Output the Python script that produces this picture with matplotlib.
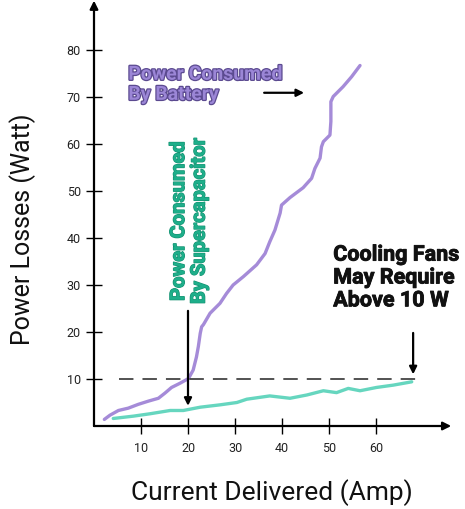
import matplotlib
matplotlib.use("Agg")
import matplotlib.pyplot as plt
import matplotlib.patheffects as pe

battery_x = [2.2, 3.4, 5.2, 7.3, 9.4, 11.6, 13.7, 15.1, 16.5, 18.3, 20.1, 21.1, 21.8,
             22.2, 22.6, 22.9, 23.3, 24.7, 26.8, 28.2, 29.6, 31.8, 34.6, 36.4, 37.4,
             38.5, 39.6, 39.9, 41.7, 44.5, 46.3, 47.0, 48.1, 48.4, 48.8, 50.2, 50.4,
             50.4, 50.9, 53.0, 54.8, 56.6]
battery_y = [1.4, 2.3, 3.3, 3.8, 4.6, 5.3, 5.9, 7.0, 8.2, 9.1, 10.1, 11.9, 14.7,
             16.9, 19.7, 21.1, 21.6, 24.0, 26.1, 28.2, 30.0, 31.8, 34.3, 36.7, 39.2,
             41.7, 45.3, 47.0, 48.6, 50.7, 52.7, 54.8, 57.0, 59.4, 60.5, 61.9, 64.8,
             69.0, 70.1, 72.2, 74.3, 76.7]

super_x = [4.1, 8.4, 11.9, 16.2, 19.0, 22.6, 26.8, 30.4, 32.5, 37.4, 41.7, 45.3,
           48.8, 51.6, 54.1, 56.6, 60.1, 63.7, 67.6]
super_y = [1.6, 2.1, 2.6, 3.3, 3.3, 4.0, 4.5, 5.0, 5.7, 6.4, 5.9, 6.6,
           7.5, 7.1, 8.0, 7.5, 8.2, 8.7, 9.4]

x_ticks = [10, 20, 30, 40, 50, 60]
y_ticks = [10, 20, 30, 40, 50, 60, 70, 80]
threshold = 10

plt.rcParams['font.family'] = ['Roboto', 'DejaVu Sans']

fig = plt.figure(figsize=(4.65, 5.09), dpi=100)
ax = fig.add_axes([94 / 465, 83 / 509, 352.5 / 465, 423 / 509])
ax.set_xlim(0, 75)
ax.set_ylim(0, 90)
for s in ax.spines.values():
    s.set_visible(False)

purple = '#A58BD8'
teal = '#66D6BF'

ax.plot(battery_x, battery_y, color=purple, lw=2.4, solid_capstyle='round',
        solid_joinstyle='round')
ax.plot(super_x, super_y, color=teal, lw=2.4, solid_capstyle='round',
        solid_joinstyle='round')
ax.plot([5.3, 70], [threshold, threshold], color='#444444', lw=1.3, dashes=(8, 5))

# axes with arrows
ax.annotate('', xy=(76, 0), xytext=(0, 0), annotation_clip=False,
            arrowprops=dict(arrowstyle='-|>', color='black', lw=1.6, mutation_scale=12,
                            shrinkA=0, shrinkB=0))
ax.annotate('', xy=(0, 90.5), xytext=(0, 0), annotation_clip=False,
            arrowprops=dict(arrowstyle='-|>', color='black', lw=1.6, mutation_scale=12,
                            shrinkA=0, shrinkB=0))

ax.set_xticks(x_ticks)
ax.set_yticks(y_ticks)
ax.tick_params(direction='inout', length=11, width=1, color='black',
               labelsize=9, labelcolor='#222222', pad=4)
ax.tick_params(axis='x', pad=6)

fig.text(272 / 465, 1 - 493 / 509, 'Current Delivered (Amp)', ha='center', va='center',
         fontsize=19, color='#111111')
fig.text(23 / 465, 1 - 229 / 509, 'Power Losses (Watt)', ha='center', va='center',
         rotation=90, fontsize=18, color='#111111')

bold_fx = [pe.withStroke(linewidth=0.6, foreground='#111111')]

# annotations
ax.text(7.3, 72.6, 'Power Consumed\nBy Battery', color='#9B86D6', fontsize=14,
        fontweight='bold', ha='left', va='center', linespacing=1.15,
        path_effects=[pe.withStroke(linewidth=1.8, foreground='#5B4A90')])
ax.annotate('', xy=(44.7, 70.9), xytext=(36.2, 70.9),
            arrowprops=dict(arrowstyle='-|>', color='black', lw=1.6, mutation_scale=11,
                            shrinkA=0, shrinkB=0))

ax.text(20.2, 43.6, 'Power Consumed\nBy Supercapacitor', color='#1EAE8A', fontsize=14.5,
        fontweight='bold', ha='center', va='center', rotation=90, linespacing=1.1,
        path_effects=[pe.withStroke(linewidth=0.9, foreground='#139070')])
ax.annotate('', xy=(20, 4.3), xytext=(20, 24.5),
            arrowprops=dict(arrowstyle='-|>', color='black', lw=1.6, mutation_scale=11,
                            shrinkA=0, shrinkB=0))

ax.text(50.9, 31.6, 'Cooling Fans\nMay Require\nAbove 10 W', color='#111111', fontsize=15.5,
        fontweight='bold', ha='left', va='center', linespacing=1.05,
        path_effects=bold_fx)
ax.annotate('', xy=(67.9, 11.0), xytext=(67.9, 19.8),
            arrowprops=dict(arrowstyle='-|>', color='black', lw=1.6, mutation_scale=11,
                            shrinkA=0, shrinkB=0))

fig.savefig('out.png', dpi=100)
